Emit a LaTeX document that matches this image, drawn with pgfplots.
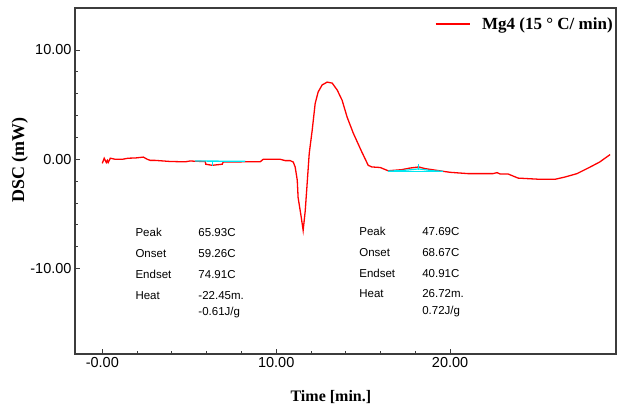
\documentclass[border=0pt]{standalone}
\usepackage{fontspec}
\setmainfont{Liberation Sans}
\newfontfamily\serifbf{Liberation Serif}
\usepackage{pgfplots}
\pgfplotsset{compat=1.18}

\definecolor{dsccurve}{RGB}{255,0,0}
\definecolor{basecyan}{RGB}{0,230,240}
\definecolor{framegray}{RGB}{60,60,60}

\pgfplotstableread{
t      dsc
0.00   -0.37
0.11    0.10
0.23   -0.30
0.29   -0.10
0.34   -0.30
0.46    0.10
0.75    0.00
1.15    0.00
1.49    0.10
1.90    0.12
2.36    0.20
2.59    0.00
2.76   -0.10
3.05   -0.10
3.91   -0.20
4.77   -0.23
5.06   -0.15
5.34   -0.18
5.92   -0.20
5.95   -0.45
6.32   -0.55
6.90   -0.45
6.95   -0.25
7.76   -0.25
8.22   -0.22
9.08   -0.23
9.25    0.00
10.23   0.00
10.52  -0.12
10.80  -0.12
10.98  -0.25
11.09  -0.70
11.21  -1.90
11.26  -3.50
11.44  -5.30
11.55  -6.50
11.67  -4.70
11.78  -2.20
11.90   0.55
12.07   2.66
12.24   5.10
12.41   6.15
12.64   6.80
12.93   7.06
13.22   6.97
13.51   6.33
13.79   5.40
14.08   3.85
14.43   2.40
14.90   0.75
15.29  -0.55
15.50  -0.70
15.98  -0.75
16.44  -1.05
17.20  -0.95
17.70  -0.80
18.20  -0.70
18.55  -0.85
19.60  -1.10
20.00  -1.19
21.03  -1.31
22.47  -1.31
22.70  -1.22
22.87  -1.34
23.33  -1.34
23.91  -1.72
25.17  -1.83
26.03  -1.83
26.61  -1.62
27.30  -1.31
28.05  -0.71
28.60  -0.25
29.20   0.43
}\dscdata

\begin{document}
\begin{tikzpicture}
\begin{axis}[
  name=ax,
  scale only axis,
  width=541bp, height=346bp,
  xmin=-1.57, xmax=29.54,
  ymin=-17.81, ymax=13.84,
  xtick={0,10,20},
  xticklabels={-0.00,10.00,20.00},
  ytick={-10,0,10},
  yticklabels={-10.00,0.00,10.00},
  minor tick num=4,
  xtick pos=left, ytick pos=left,
  tick align=inside,
  major tick length=5bp,
  minor tick length=3bp,
  every tick/.style={framegray, line width=0.8bp},
  axis line style={framegray, line width=1.3bp},
  tick label style={font=\fontsize{14.5bp}{16bp}\selectfont},
  xlabel={\serifbf\bfseries Time [min.]},
  ylabel={\serifbf\bfseries DSC (mW)},
  xlabel style={font=\fontsize{16bp}{18bp}\selectfont, at={(axis description cs:0.473,-0.124)}, anchor=center},
  ylabel style={font=\fontsize{18bp}{20bp}\selectfont, at={(axis description cs:-0.102,0.56)}, anchor=center},
  legend style={draw=none, fill=none, at={(axis description cs:1.009,0.985)}, anchor=north east,
                font=\fontsize{17bp}{19bp}\selectfont\serifbf\bfseries, inner sep=2bp,
                nodes={inner xsep=6bp}},
  legend image code/.code={\draw[dsccurve, line width=1.2bp] (0bp,0bp) -- (34bp,0bp); \path (40bp,0bp);},
  legend cell align=left,
]
\addplot[dsccurve, line width=1.3bp] table[x=t, y=dsc] {\dscdata};
\addlegendentry{Mg4 (15 ° C/ min)}

% integration baselines
\addplot[color=basecyan, line width=1.3bp, forget plot] coordinates {(5.34,-0.16) (8.22,-0.18)};
\addplot[color=basecyan, line width=0.8bp, forget plot] coordinates {(6.32,-0.16) (6.32,-0.62)};
\addplot[color=basecyan, line width=1.2bp, forget plot] coordinates {(16.44,-1.08) (17.3,-1.02) (18.2,-0.88) (19.0,-1.05) (19.6,-1.10)};
\addplot[color=basecyan, line width=0.8bp, forget plot] coordinates {(18.2,-1.0) (18.2,-0.45)};
\addplot[color=basecyan, line width=1.0bp, forget plot] coordinates {(16.44,-1.12) (19.6,-1.12)};

% peak analysis results
\begin{scope}[every node/.style={anchor=west, inner sep=0pt, font=\fontsize{11.5bp}{13bp}\selectfont}]
\node at (axis cs:1.9,-6.7)   {Peak};
\node at (axis cs:1.9,-8.62)  {Onset};
\node at (axis cs:1.9,-10.55) {Endset};
\node at (axis cs:1.9,-12.48) {Heat};
\node at (axis cs:5.52,-6.7)   {65.93C};
\node at (axis cs:5.52,-8.62)  {59.26C};
\node at (axis cs:5.52,-10.55) {74.91C};
\node at (axis cs:5.52,-12.48) {-22.45m.};
\node at (axis cs:5.52,-14.04) {-0.61J/g};
\node at (axis cs:14.77,-6.6)   {Peak};
\node at (axis cs:14.77,-8.53)  {Onset};
\node at (axis cs:14.77,-10.46) {Endset};
\node at (axis cs:14.77,-12.3)  {Heat};
\node at (axis cs:18.39,-6.6)   {47.69C};
\node at (axis cs:18.39,-8.53)  {68.67C};
\node at (axis cs:18.39,-10.46) {40.91C};
\node at (axis cs:18.39,-12.3)  {26.72m.};
\node at (axis cs:18.39,-13.9)  {0.72J/g};
\end{scope}
\end{axis}
\pgfresetboundingbox
\path[use as bounding box] ([shift={(-75bp,-55bp)}]ax.south west) rectangle ([shift={(8bp,8bp)}]ax.north east);
\end{tikzpicture}
\end{document}
